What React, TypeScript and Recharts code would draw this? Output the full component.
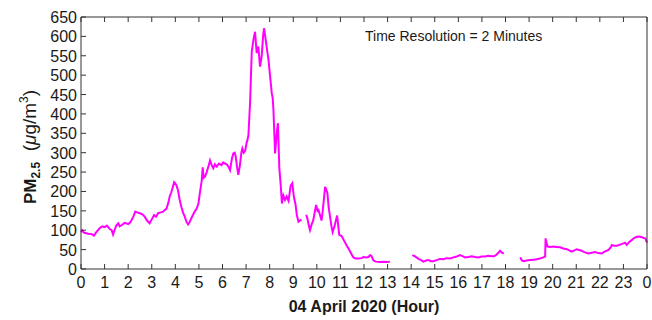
import React from 'react';
import { LineChart, Line, XAxis, YAxis } from 'recharts';

// Hour of day (04 April 2020) at which each reading is sampled
const hours: number[] = [
  0.0, 0.05, 0.12, 0.3, 0.45, 0.55, 0.65, 0.79, 0.9, 1.0, 1.1, 1.22, 1.3, 1.36, 1.42, 1.5, 1.58, 1.64, 1.75, 1.85,
  2.0, 2.08, 2.14, 2.22, 2.3, 2.38, 2.49, 2.6, 2.7, 2.8, 2.91, 3.0, 3.1, 3.18, 3.27, 3.38, 3.48, 3.55, 3.62, 3.7,
  3.76, 3.83, 3.9, 3.95, 4.0, 4.05, 4.11, 4.18, 4.25, 4.33, 4.4, 4.47, 4.54, 4.6, 4.68, 4.75, 4.82, 4.9, 4.98, 5.05,
  5.12, 5.16, 5.2, 5.26, 5.33, 5.4, 5.47, 5.54, 5.61, 5.68, 5.75, 5.85, 5.96, 6.03, 6.1, 6.18, 6.25, 6.32, 6.4, 6.46,
  6.52, 6.56, 6.62, 6.67, 6.74, 6.8, 6.84, 6.9, 6.96, 7.02, 7.06, 7.1, 7.17, 7.24, 7.31, 7.38, 7.45, 7.52, 7.59, 7.66,
  7.72, 7.76, 7.8, 7.85, 7.9, 7.95, 8.02, 8.09, 8.13, 8.16, 8.23, 8.3, 8.35, 8.41, 8.47, 8.52, 8.58, 8.65, 8.72, 8.8,
  8.89, 8.96, 9.03, 9.1, 9.15, 9.22, 9.3, 9.36, 9.45,
  9.55, 9.6, 9.66, 9.71, 9.78, 9.85, 9.92, 9.97, 10.03, 10.07, 10.13, 10.2, 10.25, 10.3, 10.35, 10.4, 10.45, 10.5,
  10.56, 10.62, 10.67, 10.75, 10.81, 10.86, 10.91, 10.95, 11.05, 11.12, 11.2, 11.27, 11.35, 11.41, 11.5, 11.55,
  11.65, 11.77, 11.9, 11.98, 12.1, 12.19, 12.26, 12.32, 12.4, 12.5, 12.68, 12.85, 13.0, 13.1, 13.5,
  14.05, 14.15, 14.31, 14.42, 14.52, 14.63, 14.73, 14.84, 14.94, 15.08, 15.22, 15.36, 15.51, 15.65, 15.79, 15.93,
  16.07, 16.18, 16.28, 16.43, 16.57, 16.71, 16.85, 16.99, 17.13, 17.27, 17.41, 17.52, 17.6, 17.7, 17.77, 17.85,
  17.93, 18.3,
  18.62, 18.7, 18.76, 18.9, 19.04, 19.18, 19.32, 19.46, 19.6, 19.68, 19.7, 19.73, 19.78, 19.9, 20.03, 20.17, 20.31,
  20.45, 20.6, 20.7, 20.81, 20.92, 21.02, 21.12, 21.23, 21.37, 21.52, 21.66, 21.8, 21.94, 22.08, 22.2, 22.37, 22.45,
  22.51, 22.6, 22.72, 22.86, 23.0, 23.07, 23.14, 23.25, 23.36, 23.45, 23.57, 23.68, 23.78, 23.87, 23.93, 24.0,
];

// PM2.5 concentration (µg/m³); null marks missing data (gaps in the trace)
const pm25: (number | null)[] = [
  95, 100, 94, 91, 90, 86, 95, 105, 110, 108, 112, 103, 100, 89, 100, 113, 118, 110, 114, 119,
  116, 120, 126, 135, 148, 146, 144, 141, 135, 125, 118, 128, 139, 135, 144, 146, 148, 152, 155, 170,
  187, 198, 213, 224, 221, 215, 204, 180, 161, 145, 135, 122, 115, 120, 131, 140, 148, 155, 169, 200,
  228, 262, 235, 238, 250, 264, 280, 268, 260, 270, 264, 272, 268, 275, 272, 270, 264, 255, 285, 298,
  300, 290, 262, 243, 268, 300, 311, 300, 305, 325, 333, 346, 430, 560, 591, 612, 557, 574, 522, 548,
  600, 621, 605, 583, 560, 540, 496, 453, 440, 410, 298, 350, 376, 260, 215, 169, 190, 178, 187, 176,
  215, 221, 185, 165, 140, 122, 126, 125, null,
  140, 130, 112, 100, 115, 126, 150, 165, 150, 152, 140, 125, 150, 180, 212, 205, 195, 160,
  135, 110, 95, 110, 126, 138, 110, 88, 85, 77, 68, 60, 52, 45, 35, 30,
  27, 27, 28, 31, 30, 31, 36, 33, 22, 19, 18, 19, 18, 19, null,
  36, 33, 26, 23, 19, 22, 23, 20, 20, 23, 26, 25, 28, 27, 30, 32,
  36, 33, 30, 31, 33, 31, 30, 32, 32, 34, 33, 33, 36, 42, 47, 42,
  40, null,
  30, 22, 20, 22, 23, 24, 25, 27, 30, 32, 79, 70, 58, 57, 58, 57, 56,
  53, 51, 48, 45, 48, 51, 49, 47, 43, 40, 42, 44, 41, 40, 45, 49, 55,
  62, 60, 60, 63, 66, 68, 62, 70, 75, 80, 83, 84, 82, 80, 79, 68,
];

const hourTicks: number[] = [0, 1, 2, 3, 4, 5, 6, 7, 8, 9, 10, 11, 12, 13, 14, 15, 16, 17, 18, 19, 20, 21, 22, 23, 24];
const pmTicks: number[] = [0, 50, 100, 150, 200, 250, 300, 350, 400, 450, 500, 550, 600, 650];

const xTitle = '04 April 2020 (Hour)';
const noteText = 'Time Resolution = 2 Minutes';

const data = hours.map((h, i) => ({ hour: h, pm: pm25[i] }));

const AXIS = '#333333';
const TEXT = '#1a1a1a';
const TICK_LEN = 5;
const FONT = '"Liberation Sans", Arial, Helvetica, sans-serif';

const BottomTick = (props: any) => {
  const { x, y, payload } = props;
  return (
    <g>
      <line x1={x} x2={x} y1={y} y2={y - TICK_LEN} stroke={AXIS} strokeWidth={1} />
      <text x={x} y={y + 19} textAnchor="middle" fontSize={16} fill={TEXT} fontFamily={FONT}>
        {payload.value % 24}
      </text>
    </g>
  );
};

const TopTick = (props: any) => {
  const { x, y } = props;
  return <line x1={x} x2={x} y1={y} y2={y + TICK_LEN} stroke={AXIS} strokeWidth={1} />;
};

const LeftTick = (props: any) => {
  const { x, y, payload } = props;
  return (
    <g>
      <line x1={x} x2={x + TICK_LEN} y1={y} y2={y} stroke={AXIS} strokeWidth={1} />
      <text x={x - 4} y={y + 6} textAnchor="end" fontSize={16} fill={TEXT} fontFamily={FONT}>
        {payload.value}
      </text>
    </g>
  );
};

const RightTick = (props: any) => {
  const { x, y } = props;
  return <line x1={x} x2={x - TICK_LEN} y1={y} y2={y} stroke={AXIS} strokeWidth={1} />;
};

const YTitle = (props: any) => {
  const vb = props.viewBox || { x: 0, y: 17, width: 81, height: 252 };
  const cx = 36;
  const cy = vb.y + vb.height / 2 + 4;
  return (
    <text
      transform={`translate(${cx},${cy}) rotate(-90)`}
      textAnchor="middle"
      fontFamily={FONT}
      fill={TEXT}
    >
      <tspan fontWeight="bold" fontSize={17}>PM</tspan>
      <tspan fontWeight="bold" fontSize={12} dy={4}>2.5</tspan>
      <tspan fontSize={19} dy={-4}>{'\u00a0\u00a0('}</tspan>
      <tspan fontSize={19} fontStyle="italic">{'\u03bc'}</tspan>
      <tspan fontSize={19}>g/m</tspan>
      <tspan fontSize={12} dy={-8}>3</tspan>
      <tspan fontSize={19} dy={8}>)</tspan>
    </text>
  );
};

const XTitle = (props: any) => {
  const vb = props.viewBox || { x: 81, y: 269, width: 566, height: 1 };
  return (
    <text
      x={vb.x + vb.width / 2}
      y={vb.y + 43}
      textAnchor="middle"
      fontSize={16}
      fontWeight="bold"
      fill={TEXT}
      fontFamily={FONT}
    >
      {xTitle}
    </text>
  );
};

const Note = (props: any) => {
  const vb = props.viewBox || { x: 81, y: 16, width: 566, height: 1 };
  return (
    <text x={vb.x + 284} y={vb.y + vb.height + 24} fontSize={14} fill={TEXT} fontFamily={FONT}>
      {noteText}
    </text>
  );
};

export default function App() {
  return (
    <div style={{ position: 'absolute', left: 0, top: 0, width: 652, height: 320, background: '#fff' }}>
      <LineChart width={652} height={320} data={data} margin={{ top: 16, right: 4, bottom: 50, left: 0 }}>
        <XAxis
          dataKey="hour"
          type="number"
          domain={[0, 24]}
          ticks={hourTicks}
          interval={0}
          height={1}
          tickSize={0}
          tickMargin={0}
          tick={<BottomTick />}
          axisLine={{ stroke: AXIS, strokeWidth: 1 }}
          tickLine={false}
          label={<XTitle />}
        />
        <XAxis
          xAxisId="top"
          orientation="top"
          dataKey="hour"
          type="number"
          domain={[0, 24]}
          ticks={hourTicks}
          interval={0}
          height={1}
          tickSize={0}
          tickMargin={0}
          tick={<TopTick />}
          axisLine={{ stroke: AXIS, strokeWidth: 1 }}
          tickLine={false}
          label={<Note />}
        />
        <YAxis
          type="number"
          domain={[0, 650]}
          ticks={pmTicks}
          interval={0}
          width={81}
          tickSize={0}
          tickMargin={0}
          tick={<LeftTick />}
          axisLine={{ stroke: AXIS, strokeWidth: 1 }}
          tickLine={false}
          label={<YTitle />}
        />
        <YAxis
          yAxisId="right"
          orientation="right"
          type="number"
          domain={[0, 650]}
          ticks={pmTicks}
          interval={0}
          width={1}
          tickSize={0}
          tickMargin={0}
          tick={<RightTick />}
          axisLine={{ stroke: AXIS, strokeWidth: 1 }}
          tickLine={false}
        />
        <Line
          type="linear"
          dataKey="pm"
          stroke="#ff00ff"
          strokeWidth={2}
          dot={false}
          activeDot={false}
          connectNulls={false}
          isAnimationActive={false}
        />
      </LineChart>
    </div>
  );
}
